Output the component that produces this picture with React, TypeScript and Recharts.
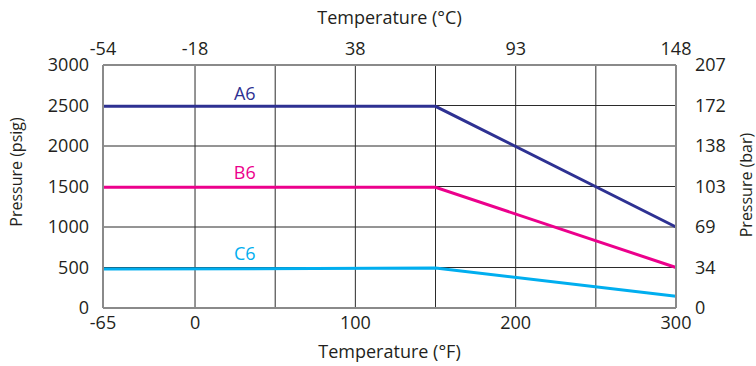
import React from 'react';
import { LineChart, Line, XAxis, YAxis, CartesianGrid, ReferenceDot } from 'recharts';

// Temperature (°F) breakpoints and pressure ratings (psig)
const tempF = [-65, 150, 300];
const a6 = [2490, 2490, 1000];
const b6 = [1490, 1490, 500];
const c6 = [480, 493, 145];

const seriesNames = ['A6', 'B6', 'C6'];
const seriesColors = ['#2e3192', '#ec008c', '#00aeef'];
const seriesValues = [a6, b6, c6];
const labelAtF = 31;
const labelOffsets = [6, 8, 9];

// Axis ticks
const gridF = [-65, 0, 50, 100, 150, 200, 250, 300];
const labelF = ['-65', '0', '', '100', '', '200', '', '300'];
const labelC = ['-54', '-18', '', '38', '', '93', '', '148'];
const psigTicks = [0, 500, 1000, 1500, 2000, 2500, 3000];
const barTicks = [0, 34, 69, 103, 138, 172, 207];

// the -65..0 °F segment of the axis is drawn compressed in the original
const LEFT_POS = -57.4;
const axisPos = (t: number) => (t < 0 ? (t / -65) * LEFT_POS : t);

const data = tempF.map((t, i) => ({ x: axisPos(t), A6: a6[i], B6: b6[i], C6: c6[i] }));

const TXT = '#231f20';
const FONT = 'Open Sans';
const tickStyle = { fontSize: 18, fill: TXT, fontFamily: FONT };
const axisLineStyle = { stroke: '#8a8a8a', strokeWidth: 2 };

const hTitle = (text: string, x: number, y: number) => () => (
  <text x={x} y={y} textAnchor="middle" fontSize={18} fill={TXT} fontFamily={FONT}>
    {text}
  </text>
);
const vTitle = (text: string, x: number, y: number) => () => (
  <text
    x={x}
    y={y}
    transform={`rotate(-90 ${x} ${y})`}
    textAnchor="middle"
    dominantBaseline="central"
    fontSize={16}
    fill={TXT}
    fontFamily={FONT}
  >
    {text}
  </text>
);

export default function App() {
  return (
    <div style={{ position: 'absolute', left: 0, top: 0, fontFamily: FONT }}>
      <LineChart width={756} height={366} data={data} margin={{ top: 0, right: 0, bottom: 0, left: 0 }}>
        <CartesianGrid stroke="#2b2b2b" strokeWidth={1} />
        <XAxis
          dataKey="x"
          type="number"
          domain={[LEFT_POS, 300]}
          ticks={gridF.map(axisPos)}
          interval={0}
          tickFormatter={(_v: number, i: number) => labelF[i]}
          height={58}
          tickSize={0}
          tickMargin={8}
          tickLine={false}
          axisLine={axisLineStyle}
          tick={tickStyle}
          label={hTitle('Temperature (°F)', 389.5, 358)}
        />
        <XAxis
          xAxisId="top"
          orientation="top"
          dataKey="x"
          type="number"
          domain={[LEFT_POS, 300]}
          ticks={gridF.map(axisPos)}
          interval={0}
          tickFormatter={(_v: number, i: number) => labelC[i]}
          height={65}
          tickSize={0}
          tickMargin={10}
          tickLine={false}
          axisLine={axisLineStyle}
          tick={tickStyle}
          label={hTitle('Temperature (°C)', 389.5, 24)}
        />
        <YAxis
          type="number"
          domain={[0, 3000]}
          ticks={psigTicks}
          interval={0}
          width={103}
          tickSize={0}
          tickMargin={14}
          tickLine={false}
          axisLine={axisLineStyle}
          tick={tickStyle}
          label={vTitle('Pressure (psig)', 15.5, 172)}
        />
        <YAxis
          yAxisId="right"
          orientation="right"
          dataKey="A6"
          type="number"
          domain={[0, 3000]}
          allowDataOverflow
          ticks={psigTicks}
          interval={0}
          tickFormatter={(_v: number, i: number) => String(barTicks[i])}
          width={80}
          tickSize={0}
          tickMargin={19}
          tickLine={false}
          axisLine={axisLineStyle}
          tick={tickStyle}
          label={vTitle('Pressure (bar)', 746, 185)}
        />
        {seriesNames.map((name, i) => (
          <Line
            key={name}
            dataKey={name}
            type="linear"
            stroke={seriesColors[i]}
            strokeWidth={3}
            dot={false}
            activeDot={false}
            isAnimationActive={false}
          />
        ))}
        {seriesNames.map((name, i) => (
          <ReferenceDot
            key={'lbl' + name}
            x={axisPos(labelAtF)}
            y={seriesValues[i][0]}
            r={0}
            fill="none"
            stroke="none"
            label={{
              value: name,
              position: 'top',
              offset: labelOffsets[i],
              fill: seriesColors[i],
              fontSize: 18,
              fontFamily: FONT,
            }}
          />
        ))}
      </LineChart>
    </div>
  );
}
